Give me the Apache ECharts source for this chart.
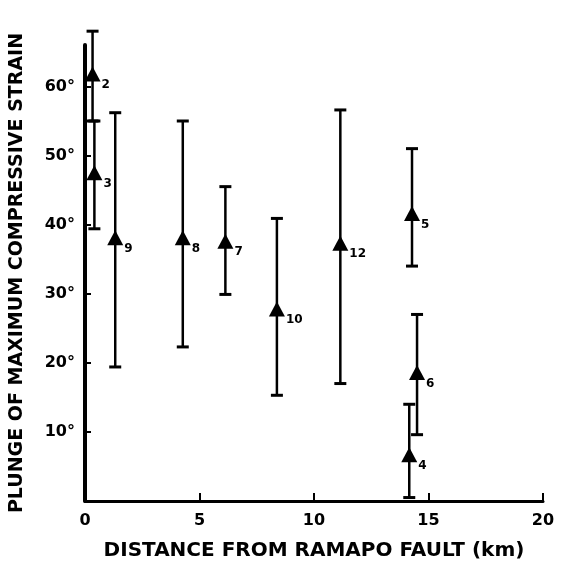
<!DOCTYPE html>
<html>
<head>
<meta charset="utf-8">
<script src="https://cdn.jsdelivr.net/npm/echarts@6/dist/echarts.min.js"></script>
<style>
  html, body { margin:0; padding:0; background:#fff; }
  #main { width:569px; height:567px; }
</style>
</head>
<body>
<div id="main"></div>
<script>
// station numbers, distance (km), plunge (deg) and error range
var stations = ['2', '3', '9', '8', '7', '10', '12', '5', '6', '4']
var distance = [0.33, 0.41, 1.32, 4.27, 6.13, 8.38, 11.15, 14.28, 14.5, 14.16]
var plunge   = [61.8, 47.5, 38.1, 38.1, 37.6, 27.8, 37.3, 41.6, 18.6, 6.7]
var plungeHi = [68, 55, 56.2, 55, 45.5, 40.9, 56.6, 51, 27, 14]
var plungeLo = [55, 39.4, 19.4, 22.3, 29.9, 15.3, 17, 34, 9.6, 0.5]
var xTicks = [0, 5, 10, 15, 20]

var font = 'DejaVu Sans'
var points = [], bars = []
for (var i = 0; i < stations.length; i++) {
  points.push({ value: [distance[i], plunge[i]], name: stations[i] })
  bars.push([distance[i], plungeLo[i], plungeHi[i]])
}

var chart = echarts.init(document.getElementById('main'))
chart.setOption({
  backgroundColor: '#fff',
  animation: false,
  grid: { left: 83, right: 26, top: 45, bottom: 66 },
  xAxis: {
    type: 'value', min: 0, max: 20, interval: 5,
    name: 'DISTANCE FROM RAMAPO FAULT (km)',
    nameLocation: 'middle', nameGap: 40,
    nameTextStyle: { fontFamily: font, fontWeight: 'bold', fontSize: 20, color: '#000' },
    axisLine: { lineStyle: { color: '#000', width: 3 } },
    axisTick: { inside: true, length: 8, lineStyle: { color: '#000', width: 2 } },
    axisLabel: {
      margin: 12, fontFamily: font, fontWeight: 'bold', fontSize: 16, color: '#000',
      formatter: function (v) { return xTicks.indexOf(v) >= 0 ? String(v) : '' }
    },
    splitLine: { show: false }
  },
  yAxis: {
    type: 'value', min: 0, max: 66, interval: 10,
    name: 'PLUNGE OF MAXIMUM COMPRESSIVE STRAIN',
    nameLocation: 'middle', nameGap: 58,
    nameTextStyle: { fontFamily: font, fontWeight: 'bold', fontSize: 19, color: '#000' },
    axisLine: { lineStyle: { color: '#000', width: 4 } },
    axisTick: { inside: true, length: 6, lineStyle: { color: '#000', width: 2 } },
    axisLabel: {
      margin: 10, fontFamily: font, fontWeight: 'bold', fontSize: 16, color: '#000',
      showMaxLabel: false,
      formatter: function (v) { return (v > 0 && v % 10 === 0) ? v + '°' : '' }
    },
    splitLine: { show: false }
  },
  series: [
    {
      type: 'custom',
      clip: false,
      data: bars,
      renderItem: function (params, api) {
        var x = api.value(0)
        var lo = api.coord([x, api.value(1)])
        var hi = api.coord([x, api.value(2)])
        var st = { stroke: '#000', lineWidth: 2.5 }
        return {
          type: 'group',
          children: [
            { type: 'line', shape: { x1: lo[0], y1: lo[1], x2: hi[0], y2: hi[1] }, style: st },
            { type: 'line', shape: { x1: hi[0] - 6, y1: hi[1], x2: hi[0] + 6, y2: hi[1] }, style: { stroke: '#000', lineWidth: 3 } },
            { type: 'line', shape: { x1: lo[0] - 6, y1: lo[1], x2: lo[0] + 6, y2: lo[1] }, style: { stroke: '#000', lineWidth: 3 } }
          ]
        }
      },
      z: 2
    },
    {
      type: 'scatter',
      clip: false,
      data: points,
      symbol: 'triangle',
      symbolSize: [16, 15],
      itemStyle: { color: '#000', opacity: 1 },
      label: {
        show: true, position: 'right', offset: [-4, 11],
        formatter: '{b}', fontFamily: font, fontWeight: 'bold', fontSize: 12, color: '#000'
      },
      z: 3
    }
  ]
})
</script>
</body>
</html>
